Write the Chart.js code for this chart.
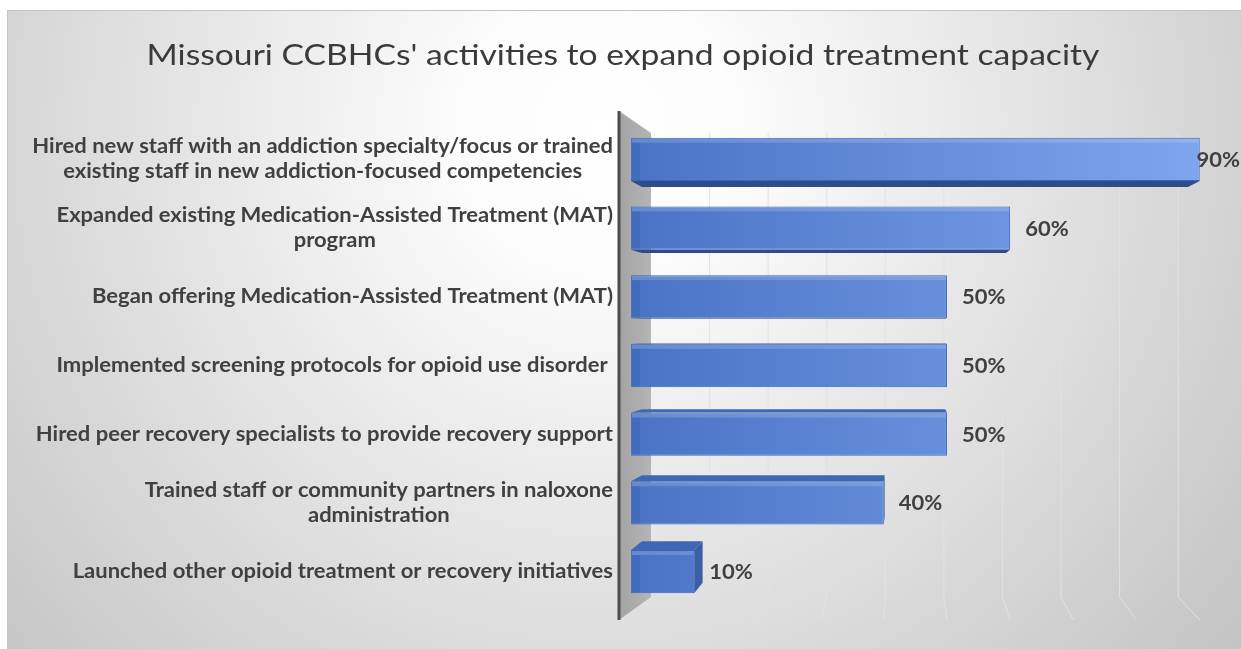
<!DOCTYPE html>
<html>
<head>
<meta charset="utf-8">
<title>Missouri CCBHCs opioid treatment capacity</title>
<script src="https://cdn.jsdelivr.net/npm/chart.js@4.4.1/dist/chart.umd.min.js"></script>
<style>
  html, body { margin: 0; padding: 0; background: #fff; overflow: hidden; }
  canvas { display: block; }
</style>
</head>
<body>
<canvas id="activity-chart" width="1241" height="649"></canvas>
<script>
const titleText = "Missouri CCBHCs' activities to expand opioid treatment capacity";

const activities = [
  ["Hired new staff with an addiction specialty/focus or trained", "existing staff in new addiction-focused competencies"],
  ["Expanded existing Medication-Assisted Treatment (MAT)", "program"],
  ["Began offering Medication-Assisted Treatment (MAT)"],
  ["Implemented screening protocols for opioid use disorder "],
  ["Hired peer recovery specialists to provide recovery support"],
  ["Trained staff or community partners in naloxone", "administration"],
  ["Launched other opioid treatment or recovery initiatives"]
];

const shares = [90, 60, 50, 50, 50, 40, 10];

// gridlines on the back wall, in percent
const gridSteps = [10, 20, 30, 40, 50, 60, 70, 80, 90];

const textColor = '#404040';
const family = 'Lato, "Open Sans", sans-serif';
// the source picture is a little wider than Lato, so text is stretched
const stretch = 1.1;

// 3d look: side faces recede towards a vanishing point
const depth = 0.96;
const wallDepth = 0.927;

function vanish(area) {
  return { x: area.left + 274, y: area.top + 205 };
}

function poly(ctx, pts, fill) {
  ctx.beginPath();
  ctx.moveTo(pts[0][0], pts[0][1]);
  for (let i = 1; i < pts.length; i++) ctx.lineTo(pts[i][0], pts[i][1]);
  ctx.closePath();
  ctx.fillStyle = fill;
  ctx.fill();
}

// draw text widened by sx around its anchor
function wideText(ctx, txt, x, y, align, sx) {
  const w = ctx.measureText(txt).width * sx;
  let left = x;
  if (align === 'center') left = x - w / 2;
  else if (align === 'right') left = x - w;
  ctx.save();
  ctx.translate(left, y);
  ctx.scale(sx, 1);
  ctx.textAlign = 'left';
  ctx.fillText(txt, 0, 0);
  ctx.restore();
  return w;
}

const backdrop = {
  id: 'backdrop',
  beforeDraw(chart) {
    const { ctx, width, height } = chart;
    ctx.save();
    ctx.fillStyle = '#ffffff';
    ctx.fillRect(0, 0, width, height);
    const g = ctx.createRadialGradient(600, 130, 0, 600, 130, 900);
    g.addColorStop(0, '#ffffff');
    g.addColorStop(0.15, '#fcfcfc');
    g.addColorStop(1, '#bdbdbd');
    ctx.fillStyle = g;
    ctx.fillRect(7, 10, width - 7, height - 10);
    ctx.strokeStyle = '#c4c4c4';
    ctx.lineWidth = 1;
    ctx.beginPath();
    ctx.moveTo(7.5, height);
    ctx.lineTo(7.5, 10.5);
    ctx.lineTo(width, 10.5);
    ctx.stroke();

    ctx.font = '29px ' + family;
    ctx.fillStyle = '#3a3a3a';
    ctx.textBaseline = 'alphabetic';
    wideText(ctx, titleText, 623, 65, 'center', 1.16);
    ctx.restore();
  }
};

const wallAndFaces = {
  id: 'wallAndFaces',
  beforeDatasetsDraw(chart) {
    const { ctx, chartArea: a, scales } = chart;
    const xs = scales.x;
    const x0 = xs.getPixelForValue(0);
    const backLeft = a.left + 20;
    const backTop = a.top + 8;
    const backBottom = a.bottom - 9;
    const floorY = a.bottom + 14;
    ctx.save();

    // gridlines on back wall, bending onto the floor
    ctx.strokeStyle = 'rgba(226,226,226,0.95)';
    ctx.lineWidth = 1;
    gridSteps.forEach(v => {
      const xf = xs.getPixelForValue(v);
      const xb = backLeft + (xf - x0) * wallDepth;
      ctx.beginPath();
      ctx.moveTo(xb, backTop);
      ctx.lineTo(xb, backBottom);
      ctx.lineTo(xf, floorY);
      ctx.stroke();
    });

    // side wall
    const wallX = a.left - 12;
    const sw = ctx.createLinearGradient(wallX, 0, backLeft, 0);
    sw.addColorStop(0, '#a3a3a3');
    sw.addColorStop(1, '#b5b5b5');
    poly(ctx, [[wallX, a.top - 14], [backLeft, backTop], [backLeft, backBottom], [wallX, floorY]], sw);
    ctx.strokeStyle = '#4d4d4d';
    ctx.lineWidth = 3;
    ctx.beginPath();
    ctx.moveTo(wallX, a.top - 14);
    ctx.lineTo(wallX, floorY);
    ctx.stroke();

    // hidden faces of the bars that show through
    const vp = vanish(a);
    const p = (px, py) => [vp.x + (px - vp.x) * depth, vp.y + (py - vp.y) * depth];
    chart.getDatasetMeta(0).data.forEach(bar => {
      const { x, y, base, height } = bar.getProps(['x', 'y', 'base', 'height'], true);
      const top = y - height / 2, bottom = y + height / 2;
      if (top > vp.y) {
        poly(ctx, [[base, top], [x, top], p(x, top), p(base, top)], '#3f67b5');
      } else if (bottom < vp.y) {
        poly(ctx, [[base, bottom], [x, bottom], p(x, bottom), p(base, bottom)], '#2c4d8a');
      }
      if (x < vp.x) {
        poly(ctx, [[x, top], [x, bottom], p(x, bottom), p(x, top)], '#3a5ea7');
      }
    });
    ctx.restore();
  },
  afterDatasetsDraw(chart) {
    const { ctx, width } = chart;
    ctx.save();
    const meta = chart.getDatasetMeta(0);
    meta.data.forEach((bar, i) => {
      const { x, y, base, height } = bar.getProps(['x', 'y', 'base', 'height'], true);
      const top = y - height / 2;
      // soft bevel along the top and left edge of the front face
      ctx.fillStyle = 'rgba(255,255,255,0.16)';
      ctx.fillRect(base + 1, top + 1, x - base - 2, 4);
      ctx.fillStyle = 'rgba(40,70,140,0.18)';
      ctx.fillRect(base + 1, top + 5, 8, height - 6);

      ctx.font = 'bold 20px ' + family;
      ctx.fillStyle = textColor;
      ctx.textBaseline = 'middle';
      const txt = shares[i] + '%';
      const w = ctx.measureText(txt).width * stretch;
      const tx = Math.min(x + 15, width - w - 1);
      wideText(ctx, txt, tx, y + 1, 'left', stretch);
    });
    ctx.restore();
  },
  afterDraw(chart) {
    const { ctx, chartArea: a, scales } = chart;
    const right = a.left - 18;
    const lineH = 25;
    ctx.save();
    ctx.font = 'bold 20px ' + family;
    ctx.fillStyle = textColor;
    ctx.textBaseline = 'middle';
    activities.forEach((lines, i) => {
      const yc = scales.y.getPixelForValue(i);
      const blockW = Math.max(...lines.map(l => ctx.measureText(l).width)) * stretch;
      const cx = right - blockW / 2;
      const y0 = yc - (lines.length - 1) * lineH / 2;
      lines.forEach((l, j) => wideText(ctx, l, cx, y0 + j * lineH, 'center', stretch));
    });
    ctx.restore();
  }
};

const frontFill = (context) => {
  const { chart } = context;
  const a = chart.chartArea;
  if (!a) return '#4f7acc';
  const g = chart.ctx.createLinearGradient(a.left, 0, a.right, 0);
  g.addColorStop(0, '#4a73c6');
  g.addColorStop(1, '#80a8f0');
  return g;
};

new Chart(document.getElementById('activity-chart'), {
  type: 'bar',
  data: {
    labels: activities,
    datasets: [{
      data: shares,
      backgroundColor: frontFill,
      borderColor: '#3c65b5',
      borderWidth: 1,
      barPercentage: 0.63,
      categoryPercentage: 1
    }]
  },
  options: {
    indexAxis: 'y',
    responsive: false,
    animation: false,
    layout: { padding: { left: 631, right: 16, top: 125, bottom: 43 } },
    scales: {
      x: { display: false, min: 0, max: 94 },
      y: { display: false }
    },
    plugins: {
      legend: { display: false },
      tooltip: { enabled: false },
      title: { display: false }
    }
  },
  plugins: [backdrop, wallAndFaces]
});
</script>
</body>
</html>
